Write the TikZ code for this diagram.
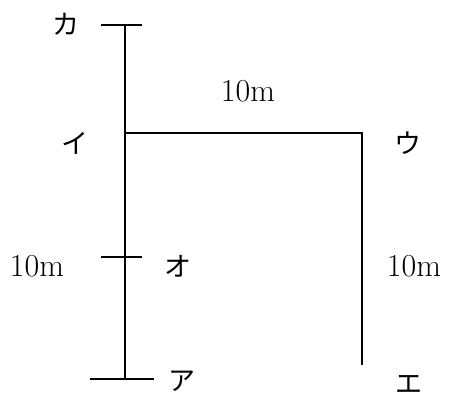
\documentclass[tikz,border=0pt]{standalone}
\usepackage{fontspec}
\newfontfamily\jpfont{Noto Sans CJK JP}
\begin{document}
\begin{tikzpicture}[
  x=0.5pt, y=-0.5pt,
  pole/.style={line width=1pt, color=black},
  kana/.style={font=\jpfont\fontsize{13.5}{16}\selectfont, inner sep=0pt},
  dist/.style={font=\fontsize{16}{19}\selectfont, inner sep=0pt},
]
\useasboundingbox (0,0) rectangle (463,400);

% points of the frame
\coordinate (ka) at (125,25);
\coordinate (i) at (125,133);
\coordinate (o) at (125,257);
\coordinate (a) at (125,379);
\coordinate (u) at (362,133);
\coordinate (e) at (362,365);

% posts and beam
\draw[pole] (ka) -- (a);
\draw[pole] (i) -- (u) -- (e);

% ticks
\draw[pole] ([shift={(-24,0)}]ka) -- ([shift={(17,0)}]ka);
\draw[pole] ([shift={(-24,0)}]o) -- ([shift={(17,0)}]o);
\draw[pole] ([shift={(-35,0)}]a) -- ([shift={(29,0)}]a);

% labels
\node[kana] (lka) at (66,24) {カ};
\node[kana] (li) at (75,143) {イ};
\node[kana] (lu) at (408,143) {ウ};
\node[kana] (lo) at (178,266) {オ};
\node[kana] (la) at (182,381) {ア};
\node[kana] (le) at (409,384) {エ};

\node[dist] (dtop) at (248,91) {10m};
\node[dist] (dleft) at (37,266) {10m};
\node[dist] (dright) at (414,266) {10m};

\end{tikzpicture}
\end{document}
